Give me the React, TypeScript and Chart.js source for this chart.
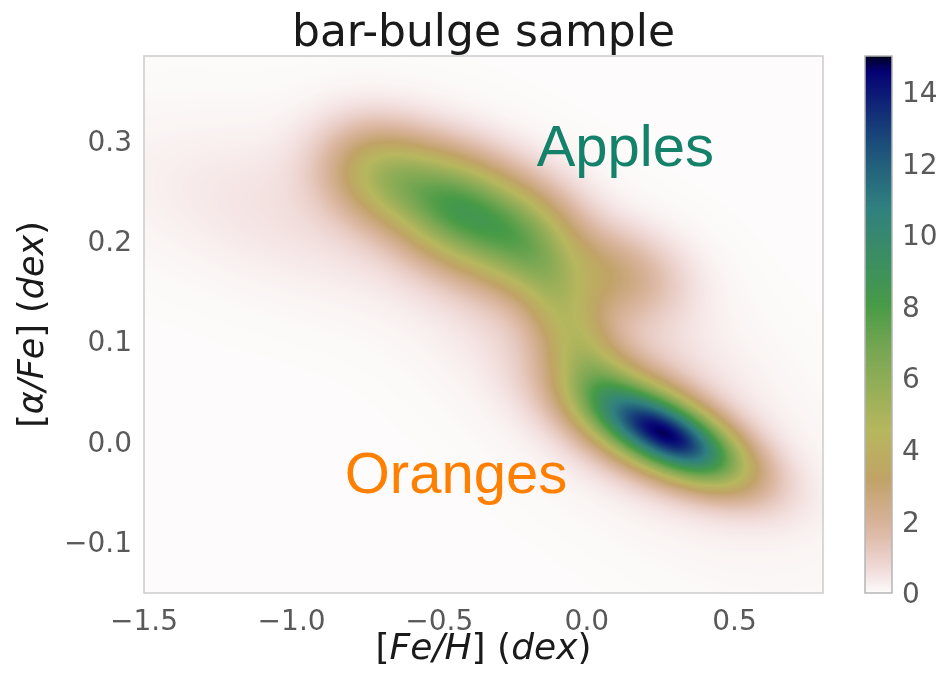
import { useEffect, useRef } from "react";
import { Chart, registerables } from "chart.js";

Chart.register(...registerables);

// ---- chart content -------------------------------------------------------
const TITLE = "bar-bulge sample";
const X_TICKS = [-1.5, -1.0, -0.5, 0.0, 0.5];
const Y_TICKS = [-0.1, 0.0, 0.1, 0.2, 0.3];
const CB_TICKS = [0, 2, 4, 6, 8, 10, 12, 14];
const X_MIN = -1.5;
const X_MAX = 0.8;
const Y_MIN = -0.15;
const Y_MAX = 0.385;
const DENSITY_MAX = 15;

// Gaussian components of the smoothed [Fe/H] – [α/Fe] density
// (centre, dispersion along each axis, correlation, peak height)
const compFeH = [0.300, 0.135, -0.108, -0.006, -0.685, -0.446, -0.226, -0.972, 0.045, 0.085];
const compAlpha = [0.003, 0.030, 0.142, 0.087, 0.267, 0.234, 0.204, 0.227, 0.082, 0.167];
const compSigFeH = [0.165, 0.169, 0.101, 0.101, 0.1386, 0.1386, 0.1386, 0.395, 0.386, 0.151];
const compSigAlpha = [0.0312, 0.0377, 0.0412, 0.0412, 0.0340, 0.0371, 0.0371, 0.0572, 0.1007, 0.0305];
const compRho = [-0.60, -0.49, -0.49, -0.49, -0.15, -0.12, -0.12, -0.44, -0.68, -0.14];
const compAmp = [11.0, 4.5, 1.8, 2.0, 4.2, 6.0, 5.0, 0.5, 0.9, 2.3];

// text labels placed in data coordinates (left / baseline anchored)
const NOTE_TEXT = ["Apples", "Oranges"];
const NOTE_FEH = [-0.17, -0.82];
const NOTE_ALPHA = [0.275, -0.05];
const NOTE_COLOR = ["#14826a", "#ff8000"];

const X_TITLE: [string, boolean][] = [["[", false], ["Fe/H", true], ["] (", false], ["dex", true], [")", false]];
const Y_TITLE: [string, boolean][] = [["[", false], ["\u03b1/Fe", true], ["] (", false], ["dex", true], [")", false]];

// ---- gist_earth colour map (used reversed) --------------------------------
const EARTH_R = [[0, 0], [0.2824, 0.1882], [0.4588, 0.2714], [0.549, 0.4719], [0.698, 0.7176], [0.7882, 0.7553], [1, 0.9922]];
const EARTH_G = [[0, 0], [0.0275, 0], [0.1098, 0.1893], [0.1647, 0.3035], [0.2078, 0.3841], [0.2824, 0.502], [0.5216, 0.6397], [0.698, 0.7171], [0.7882, 0.6392], [0.7922, 0.6413], [0.8, 0.6447], [0.8078, 0.6481], [0.8157, 0.6549], [0.8667, 0.6991], [0.8745, 0.7103], [0.8824, 0.7216], [0.8902, 0.7323], [0.898, 0.743], [0.9412, 0.8275], [0.9569, 0.8635], [0.9647, 0.8816], [0.9961, 0.9733], [1, 0.9843]];
const EARTH_B = [[0, 0], [0.0039, 0.1684], [0.0078, 0.2212], [0.0275, 0.4329], [0.0314, 0.4549], [0.2824, 0.5004], [0.4667, 0.2748], [0.5451, 0.3205], [0.7843, 0.3961], [0.8941, 0.6651], [1, 0.9843]];

function segment(pts: number[][], t: number): number {
  for (let i = 1; i < pts.length; i++) {
    if (t <= pts[i][0]) {
      const [x0, y0] = pts[i - 1];
      const [x1, y1] = pts[i];
      return y0 + ((t - x0) / (x1 - x0)) * (y1 - y0);
    }
  }
  return pts[pts.length - 1][1];
}

const LUT_SIZE = 1024;
const LUT: number[][] = [];
for (let i = 0; i < LUT_SIZE; i++) {
  const t = 1 - i / (LUT_SIZE - 1);
  LUT.push([
    Math.round(segment(EARTH_R, t) * 255),
    Math.round(segment(EARTH_G, t) * 255),
    Math.round(segment(EARTH_B, t) * 255),
  ]);
}
function colourOf(v: number): number[] {
  const f = Math.min(1, Math.max(0, v / DENSITY_MAX));
  return LUT[Math.round(f * (LUT_SIZE - 1))];
}

function density(x: number, y: number): number {
  let s = 0;
  for (let k = 0; k < compAmp.length; k++) {
    const dx = (x - compFeH[k]) / compSigFeH[k];
    const dy = (y - compAlpha[k]) / compSigAlpha[k];
    const r = compRho[k];
    const q = (dx * dx - 2 * r * dx * dy + dy * dy) / (1 - r * r);
    s += compAmp[k] * Math.exp(-0.5 * q);
  }
  return s;
}

const fmt1 = (v: number) => v.toFixed(1).replace("-", "\u2212");

function drawRich(ctx: CanvasRenderingContext2D, parts: [string, boolean][], size: number) {
  const font = (it: boolean) => `${it ? "italic " : ""}${size}px "DejaVu Sans"`;
  let total = 0;
  const widths = parts.map(([s, it]) => {
    ctx.font = font(it);
    const w = ctx.measureText(s).width;
    total += w;
    return w;
  });
  let x = -total / 2;
  parts.forEach(([s, it], i) => {
    ctx.font = font(it);
    ctx.fillText(s, x, 0);
    x += widths[i];
  });
}

// ---- plugins ---------------------------------------------------------------
const densityField = {
  id: "densityField",
  beforeDatasetsDraw(chart: any) {
    const { ctx, chartArea: a, scales } = chart;
    const xs = scales.x;
    const ys = scales.y;
    const w = Math.round(a.right - a.left);
    const h = Math.round(a.bottom - a.top);
    const off = document.createElement("canvas");
    off.width = w;
    off.height = h;
    const octx = off.getContext("2d")!;
    const img = octx.createImageData(w, h);
    const xv = new Float64Array(w);
    for (let i = 0; i < w; i++) xv[i] = xs.getValueForPixel(a.left + i + 0.5);
    let p = 0;
    for (let j = 0; j < h; j++) {
      const yv = ys.getValueForPixel(a.top + j + 0.5);
      for (let i = 0; i < w; i++) {
        const c = colourOf(density(xv[i], yv));
        img.data[p++] = c[0];
        img.data[p++] = c[1];
        img.data[p++] = c[2];
        img.data[p++] = 255;
      }
    }
    octx.putImageData(img, 0, 0);
    ctx.save();
    ctx.drawImage(off, a.left, a.top);
    ctx.strokeStyle = "#cccccc";
    ctx.lineWidth = 1.5;
    ctx.strokeRect(a.left, a.top, a.right - a.left, a.bottom - a.top);
    ctx.restore();
  },
  afterDraw(chart: any) {
    const { ctx, chartArea: a, scales } = chart;
    ctx.save();
    // colour bar
    const cb = scales.cb;
    const bx = cb.left + 42;
    const bw = 27;
    for (let y = Math.floor(cb.top); y < Math.ceil(cb.bottom); y++) {
      const c = colourOf(cb.getValueForPixel(y + 0.5));
      ctx.fillStyle = `rgb(${c[0]},${c[1]},${c[2]})`;
      ctx.fillRect(bx, y, bw, 1);
    }
    ctx.strokeStyle = "#b5b5b5";
    ctx.lineWidth = 1.5;
    ctx.strokeRect(bx, cb.top, bw, cb.bottom - cb.top);

    // text labels inside the plot
    ctx.textAlign = "left";
    ctx.textBaseline = "alphabetic";
    ctx.font = '58px "Liberation Sans"';
    NOTE_TEXT.forEach((t, i) => {
      ctx.fillStyle = NOTE_COLOR[i];
      ctx.fillText(t, scales.x.getPixelForValue(NOTE_FEH[i]), scales.y.getPixelForValue(NOTE_ALPHA[i]));
    });

    // axis titles
    ctx.fillStyle = "#1a1a1a";
    ctx.save();
    ctx.translate((a.left + a.right) / 2, 659);
    drawRich(ctx, X_TITLE, 36);
    ctx.restore();
    ctx.save();
    ctx.translate(43, (a.top + a.bottom) / 2);
    ctx.rotate(-Math.PI / 2);
    drawRich(ctx, Y_TITLE, 35);
    ctx.restore();
    ctx.restore();
  },
};

const tickFont = { family: "DejaVu Sans", size: 28 };
const TICK_COLOR = "#595959";
const noGrid = { display: false, drawTicks: false };

export default function App() {
  const ref = useRef<HTMLCanvasElement>(null);
  useEffect(() => {
    const chart = new Chart(ref.current!, {
      type: "scatter",
      data: { datasets: [] },
      plugins: [densityField],
      options: {
        animation: false,
        responsive: false,
        layout: { padding: 0 },
        plugins: {
          legend: { display: false },
          tooltip: { enabled: false },
          title: {
            display: true,
            text: TITLE,
            fullSize: false,
            color: "#1a1a1a",
            font: { family: "DejaVu Sans", size: 44, weight: "normal", lineHeight: 1.0 },
            padding: { top: 13, bottom: -1 },
          },
        },
        scales: {
          x: {
            type: "linear",
            min: X_MIN,
            max: X_MAX,
            afterBuildTicks: (s: any) => { s.ticks = X_TICKS.map((value) => ({ value })); },
            afterFit: (s: any) => { s.height = 88; },
            grid: noGrid,
            border: { display: false },
            ticks: { font: tickFont, color: TICK_COLOR, padding: 13, maxRotation: 0, callback: (v: any) => fmt1(Number(v)) },
          },
          y: {
            type: "linear",
            min: Y_MIN,
            max: Y_MAX,
            afterBuildTicks: (s: any) => { s.ticks = Y_TICKS.map((value) => ({ value })); },
            afterFit: (s: any) => { s.width = 144; },
            grid: noGrid,
            border: { display: false },
            ticks: { font: tickFont, color: TICK_COLOR, padding: 12, labelOffset: 2, callback: (v: any) => fmt1(Number(v)) },
          },
          cb: {
            type: "linear",
            position: "right",
            min: 0,
            max: DENSITY_MAX,
            afterBuildTicks: (s: any) => { s.ticks = CB_TICKS.map((value) => ({ value })); },
            afterFit: (s: any) => { s.width = 118; s.paddingTop = 0; s.paddingBottom = 0; },
            grid: noGrid,
            border: { display: false },
            ticks: { font: tickFont, color: TICK_COLOR, padding: 79, labelOffset: 3, callback: (v: any) => String(v) },
          },
        },
      } as any,
    });
    return () => chart.destroy();
  }, []);
  return (
    <div style={{ position: "fixed", left: 0, top: 0, width: 941, height: 681, background: "#ffffff" }}>
      <canvas ref={ref} width={941} height={681} style={{ width: 941, height: 681, display: "block" }} />
    </div>
  );
}
